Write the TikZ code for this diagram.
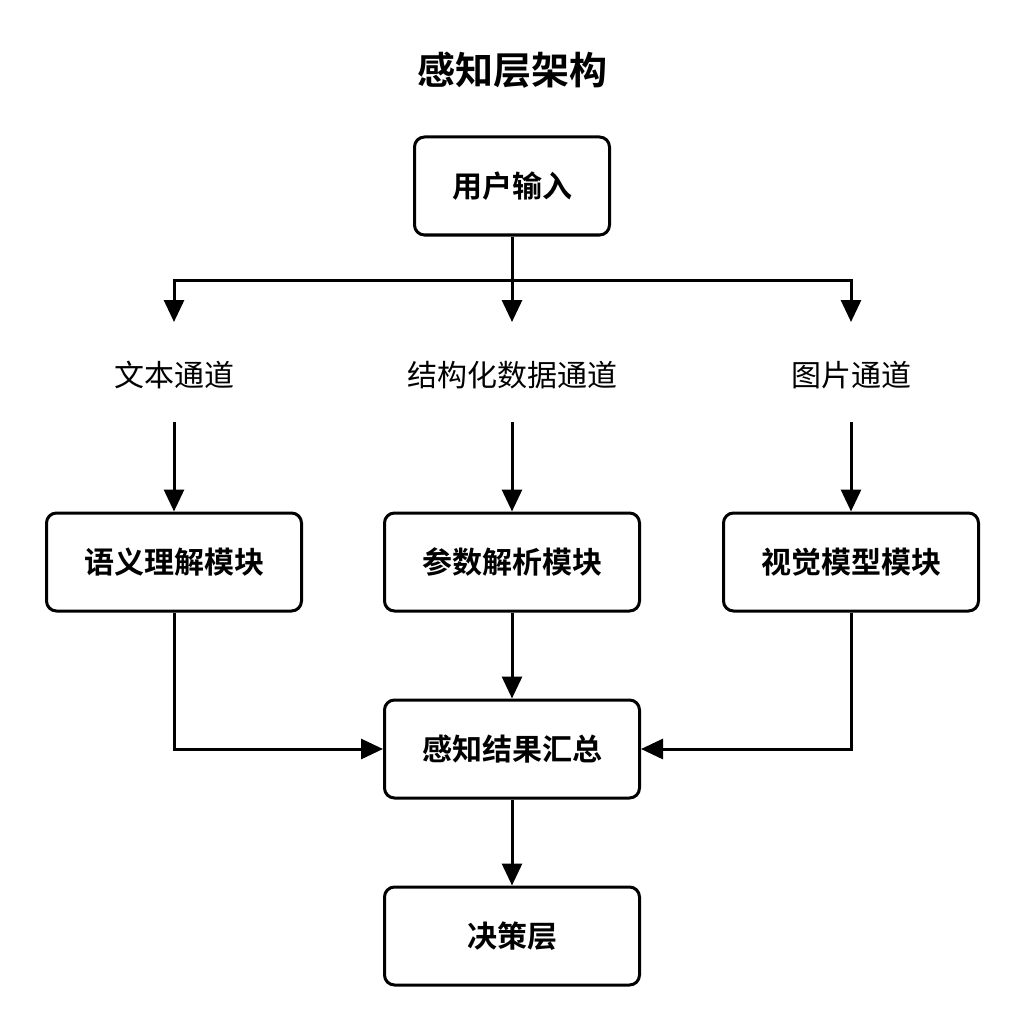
\documentclass[tikz,border=0pt]{standalone}
\usepackage{fontspec}
\newfontfamily\cjk{Noto Sans CJK SC}
\newfontfamily\cjkb{Noto Sans CJK SC Bold}
\usetikzlibrary{arrows.meta}
\begin{document}
\begin{tikzpicture}[x=1pt,y=-1pt,
  box/.style={draw,line width=3pt,rounded corners=10pt,minimum width=255pt,minimum height=98pt,font=\cjkb\fontsize{30}{30}\selectfont,inner sep=0pt},
  lbl/.style={font=\cjk\fontsize{30}{30}\selectfont,inner sep=0pt},
  conn/.style={line width=3pt,-{Triangle[length=22pt,width=20pt]}},
  ln/.style={line width=3pt}]
\useasboundingbox (0,0) rectangle (1024,1024);
\node[font=\cjkb\fontsize{38}{38}\selectfont] (title) at (512,70) {感知层架构};
\node[box,minimum width=195pt] (in) at (512,186) {用户输入};
\node[lbl] (t1) at (174,375) {文本通道};
\node[lbl] (t2) at (512,375) {结构化数据通道};
\node[lbl] (t3) at (851,375) {图片通道};
\node[box] (m1) at (174,562) {语义理解模块};
\node[box] (m2) at (512,562) {参数解析模块};
\node[box] (m3) at (851,562) {视觉模型模块};
\node[box] (s) at (512,749) {感知结果汇总};
\node[box] (d) at (512,936) {决策层};
\coordinate (j) at (512,280);
\coordinate (a1) at (174,322);
\coordinate (a2) at (512,322);
\coordinate (a3) at (851,322);
\draw[ln] (in.south) -- (j);
\draw[conn] (j) -- (a2);
\draw[conn] (j) -| (a1);
\draw[conn] (j) -| (a3);
\draw[conn] (174,422) -- (m1.north);
\draw[conn] (512,422) -- (m2.north);
\draw[conn] (851,422) -- (m3.north);
\draw[conn] (m2.south) -- (s.north);
\draw[conn] (m1.south) |- (s.west);
\draw[conn] (m3.south) |- (s.east);
\draw[conn] (s.south) -- (d.north);
\end{tikzpicture}
\end{document}
